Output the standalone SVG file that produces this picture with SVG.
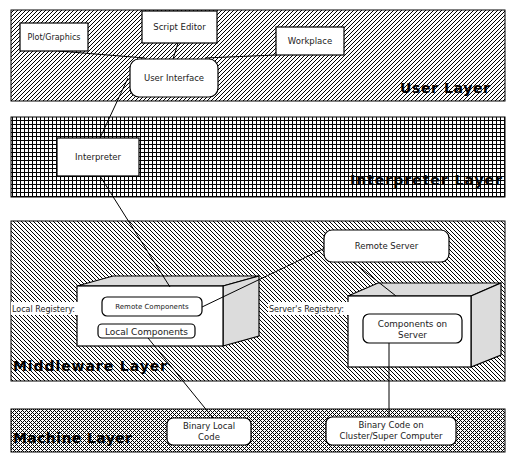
<svg xmlns="http://www.w3.org/2000/svg" width="506" height="453" viewBox="0 0 506 453">
<defs>
<pattern id="pUser" width="4" height="4" patternUnits="userSpaceOnUse"><rect width="4" height="4" fill="#fff"/><path d="M-1,1 L1,-1 M0,4 L4,0 M3,5 L5,3" stroke="#000" stroke-width="1" shape-rendering="crispEdges"/></pattern>
<pattern id="pGrid" width="4" height="4" patternUnits="userSpaceOnUse"><rect width="4" height="4" fill="#fff"/><path d="M0,0.5 H4 M0.5,0 V4" stroke="#000" stroke-width="1" shape-rendering="crispEdges"/></pattern>
<pattern id="pMid" width="4" height="4" patternUnits="userSpaceOnUse"><rect width="4" height="4" fill="#fff"/><path d="M-1,3 L1,5 M0,0 L4,4 M3,-1 L5,1" stroke="#000" stroke-width="1" shape-rendering="crispEdges"/></pattern>
<pattern id="pMach" width="4" height="4" patternUnits="userSpaceOnUse"><rect width="4" height="4" fill="#fff"/><path d="M0,0h1v1h-1z M1,1h1v1h-1z M2,2h1v1h-1z M3,3h1v1h-1z M1,3h1v1h-1z M3,1h1v1h-1z" fill="#000" shape-rendering="crispEdges"/></pattern>
</defs>
<style>
.layer{stroke:#000;stroke-width:1}
.lbl{font-family:"DejaVu Sans","Liberation Sans",sans-serif;font-weight:bold;font-size:14px;fill:#000}
.box{fill:#fff;stroke:#000;stroke-width:1.2}
.t{font-family:"DejaVu Sans","Liberation Sans",sans-serif;font-size:8.5px;fill:#222;text-anchor:middle}
.reg{font-family:"DejaVu Sans","Liberation Sans",sans-serif;font-size:8px;fill:#222}
.front{fill:#fff;stroke:#000;stroke-width:1.2}
.side{fill:#dcdcdc;stroke:#000;stroke-width:1.2}
.con{stroke:#000;stroke-width:1;fill:none}
</style>
<g id="layers">
<g id="user-layer"><rect class="layer" x="11" y="10" width="494" height="91" fill="url(#pUser)"/><text class="lbl" x="400" y="93" textLength="90">User Layer</text></g>
<g id="interpreter-layer"><rect class="layer" x="11" y="117" width="494" height="80" fill="url(#pGrid)"/><text class="lbl" x="350" y="185" textLength="152">Interpreter Layer</text></g>
<g id="middleware-layer"><rect class="layer" x="11" y="221" width="494" height="160" fill="url(#pMid)"/><text class="lbl" x="13" y="371" textLength="154">Middleware Layer</text></g>
<g id="machine-layer"><rect class="layer" x="11" y="409" width="494" height="43" fill="url(#pMach)"/><text class="lbl" x="13" y="443" textLength="119">Machine Layer</text></g>
</g>
<g id="local-registry">
<polygon class="side" points="77,286 113,276 259,276 223,286"/>
<polygon class="side" points="223,286 259,276 259,336 223,346"/>
<rect class="front" x="77" y="286" width="146" height="60"/>
<rect x="11" y="302" width="76" height="13" fill="#fff"/>
<text class="reg" x="12" y="312">Local Registery:</text>
</g>
<g id="server-registry">
<polygon class="side" points="348,296 378,283 501,283 471,296"/>
<polygon class="side" points="471,296 501,283 501,355 471,367"/>
<rect class="front" x="348" y="296" width="123" height="71"/>
<rect x="268" y="302" width="93" height="13" fill="#fff"/>
<text class="reg" x="269" y="312">Server's Registery:</text>
</g>
<g id="connectors">
<line class="con" x1="58" y1="51" x2="145" y2="58"/>
<line class="con" x1="205" y1="58" x2="276" y2="55"/>
<line class="con" x1="178" y1="43" x2="173" y2="59"/>
<line class="con" x1="128" y1="78" x2="100" y2="138"/>
<line class="con" x1="100" y1="176" x2="170" y2="287"/>
<line class="con" x1="202" y1="307" x2="325" y2="248"/>
<line class="con" x1="353" y1="262" x2="396" y2="296"/>
<line class="con" x1="148" y1="338" x2="213" y2="418"/>
<line class="con" x1="389" y1="343" x2="389" y2="417"/>
</g>
<g id="plot-graphics"><rect class="box" x="20" y="23" width="68" height="28"/><text class="t" x="54" y="40" style="font-size:8px">Plot/Graphics</text></g>
<g id="script-editor"><rect class="box" x="142" y="11" width="75" height="32"/><text class="t" x="179.5" y="30">Script Editor</text></g>
<g id="workplace"><rect class="box" x="276" y="27" width="68" height="28"/><text class="t" x="310" y="44">Workplace</text></g>
<g id="user-interface"><rect class="box" x="130" y="59" width="88" height="38" rx="9"/><text class="t" x="174" y="81">User Interface</text></g>
<g id="interpreter"><rect class="box" x="57" y="138" width="82" height="38"/><text class="t" x="98" y="160">Interpreter</text></g>
<g id="remote-server"><rect class="box" x="324" y="230" width="125" height="32" rx="8"/><text class="t" x="386.5" y="249">Remote Server</text></g>
<g id="remote-components"><rect class="box" x="102" y="297" width="100" height="19" rx="5"/><text class="t" x="152" y="309" style="font-size:7px">Remote Components</text></g>
<g id="local-components"><rect class="box" x="98" y="324" width="97" height="14" rx="4"/><text class="t" x="146.5" y="334.5" style="font-size:9px">Local Components</text></g>
<g id="components-on-server"><rect class="box" x="363" y="314" width="99" height="29" rx="6"/><text class="t" x="412.5" y="327" style="font-size:8.8px">Components on</text><text class="t" x="412.5" y="338" style="font-size:8.8px">Server</text></g>
<g id="binary-local"><rect class="box" x="167" y="418" width="84" height="27" rx="6"/><text class="t" x="209" y="429">Binary Local</text><text class="t" x="209" y="440">Code</text></g>
<g id="binary-cluster"><rect class="box" x="326" y="417" width="130" height="28" rx="6"/><text class="t" x="391" y="428">Binary Code on</text><text class="t" x="391" y="439">Cluster/Super Computer</text></g>
</svg>
